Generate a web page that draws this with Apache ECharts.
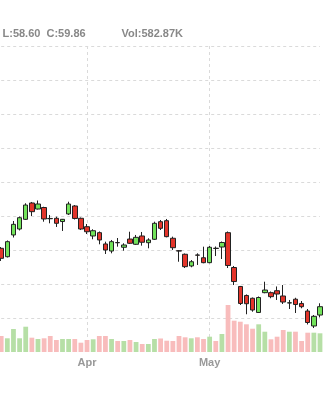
<!DOCTYPE html>
<html><head><meta charset="utf-8">
<script src="https://cdn.jsdelivr.net/npm/echarts@6/dist/echarts.min.js"></script>
<style>html,body{margin:0;padding:0;background:#fff}#c{width:324px;height:400px}</style>
</head><body><div id="c"></div>
<script>
const dates = [
 '2024-03-12','2024-03-13','2024-03-14','2024-03-15','2024-03-18','2024-03-19','2024-03-20','2024-03-21','2024-03-22',
 '2024-03-25','2024-03-26','2024-03-27','2024-03-28','2024-03-29',
 '2024-04-01','2024-04-02','2024-04-03','2024-04-08','2024-04-09','2024-04-10','2024-04-11','2024-04-12',
 '2024-04-15','2024-04-16','2024-04-17','2024-04-18','2024-04-19','2024-04-22','2024-04-23','2024-04-24',
 '2024-04-25','2024-04-26','2024-04-29','2024-04-30',
 '2024-05-06','2024-05-07','2024-05-08','2024-05-09','2024-05-10','2024-05-13','2024-05-14','2024-05-15',
 '2024-05-16','2024-05-17','2024-05-20','2024-05-21','2024-05-22','2024-05-23','2024-05-24','2024-05-27',
 '2024-05-28','2024-05-29','2024-05-30'
];
const opens = [66.73,65.74,68.30,69.00,70.14,72.06,71.35,71.53,70.24,70.26,69.88,70.77,71.71,70.26,69.27,68.18,68.57,67.24,66.41,67.41,
 66.85,67.82,67.20,68.18,67.39,67.79,69.86,69.98,67.91,66.44,66.03,64.65,65.94,65.62,65.04,66.74,66.88,68.57,64.47,62.24,
 61.18,60.85,59.18,61.51,61.51,61.74,61.12,60.30,60.74,60.24,59.35,57.59,58.88];
const closes = [65.55,67.51,69.55,70.33,71.82,71.04,71.94,70.18,70.21,69.67,70.14,71.94,70.24,69.00,68.68,68.80,67.71,66.53,67.51,67.38,
 67.12,67.32,68.02,67.44,67.71,69.67,69.08,68.10,66.80,66.41,64.57,65.15,65.92,65.04,66.85,66.71,67.41,64.71,62.82,60.24,
 60.21,59.47,60.94,61.82,61.04,61.35,60.41,60.32,60.12,59.86,58.00,58.73,59.86];
const lows = [65.24,65.65,68.00,68.83,70.06,70.53,71.30,69.86,69.67,69.24,68.77,70.65,70.12,68.88,68.41,67.79,67.20,66.06,66.14,66.92,
 66.45,67.24,67.12,67.04,66.73,67.71,68.88,68.02,66.53,65.15,64.41,64.50,64.77,64.97,64.97,65.82,65.47,64.41,62.41,60.06,
 58.97,59.27,59.12,61.44,60.85,60.65,60.18,59.59,59.12,59.67,57.77,57.35,58.60];
const highs = [66.88,67.65,69.94,70.47,72.03,72.18,72.35,71.62,70.65,70.45,70.18,72.21,71.82,70.35,69.59,68.97,68.71,67.51,67.71,67.94,
 67.32,68.68,68.30,68.65,67.91,69.86,70.06,70.18,68.10,66.53,66.12,65.35,66.14,66.92,67.00,66.94,67.53,68.71,64.65,62.30,
 61.30,60.94,61.06,62.80,61.65,62.24,62.41,60.65,60.91,60.53,59.59,58.88,60.26];
const volumes = [498600,427300,716900,427800,788500,446200,405400,427100,499300,374200,405800,404900,405300,290100,374600,396200,498800,499500,405100,343400,
 342700,374300,311900,249300,248800,405600,421200,352400,343100,499200,458300,427400,458600,405200,477100,343300,561400,1465200,976300,944100,
 863400,726200,863300,632700,396100,477300,685900,632600,633400,343200,601800,602300,582870];
const monthNames = ['Jan','Feb','Mar','Apr','May','Jun','Jul','Aug','Sep','Oct','Nov','Dec'];
const infoLow = 'L:58.60', infoClose = 'C:59.86', infoVol = 'Vol:582.87K';

const UP = '#72e35a', DOWN = '#e3342a', EDGE = '#222';
const VUP = '#b6dfa6', VDOWN = '#f8bcbc';
const kData = opens.map((o, i) => [o, closes[i], lows[i], highs[i]]);
const vData = volumes.map((v, i) => ({ value: v, itemStyle: { color: closes[i] > opens[i] ? VUP : VDOWN } }));
const isMonthStart = (idx) => idx > 0 && dates[idx].slice(5, 7) !== dates[idx - 1].slice(5, 7);
const font = '"Liberation Sans", Arial, sans-serif';

const chart = echarts.init(document.getElementById('c'));
chart.setOption({
  animation: false,
  backgroundColor: '#fff',
  grid: { left: 1.2, right: 4, top: 46, height: 306 },
  xAxis: {
    type: 'category', data: dates, boundaryGap: false,
    axisLine: { show: false }, axisTick: { show: false },
    axisLabel: {
      interval: (idx) => isMonthStart(idx),
      formatter: (v) => monthNames[parseInt(v.slice(5, 7), 10) - 1],
      color: '#999', fontWeight: 'bold', fontSize: 11, fontFamily: font, margin: 5
    },
    splitLine: { show: true, interval: (idx) => isMonthStart(idx), lineStyle: { color: '#dadada', type: [3, 3], width: 1 } }
  },
  yAxis: [
    { type: 'value', min: 54.53, max: 90.53, show: false, splitLine: { show: false } },
    { type: 'value', min: 0, max: 9540000, show: false, splitLine: { show: false } },
    { type: 'value', min: 0, max: 9, interval: 1, axisLine: { show: false }, axisTick: { show: false }, axisLabel: { show: false },
      splitLine: { show: true, showMinLine: false, lineStyle: { color: '#dadada', type: [3, 3], width: 1 } } }
  ],
  series: [
    { type: 'bar', yAxisIndex: 1, data: vData, barWidth: '78%', clip: false, z: 1 },
    { type: 'candlestick', yAxisIndex: 0, data: kData, barWidth: 5, clip: false, z: 3,
      itemStyle: { color: UP, color0: DOWN, borderColor: EDGE, borderColor0: EDGE, borderWidth: 1 } },
    { type: 'line', yAxisIndex: 2, data: [], silent: true }
  ],
  graphic: [
    { type: 'text', left: 2.5, top: 28.5, style: { text: infoLow, font: 'bold 11px ' + font, fill: '#888' } },
    { type: 'text', left: 46.5, top: 28.5, style: { text: infoClose, font: 'bold 11px ' + font, fill: '#888' } },
    { type: 'text', left: 121.5, top: 28.5, style: { text: infoVol, font: 'bold 11px ' + font, fill: '#888' } }
  ]
});
</script></body></html>
